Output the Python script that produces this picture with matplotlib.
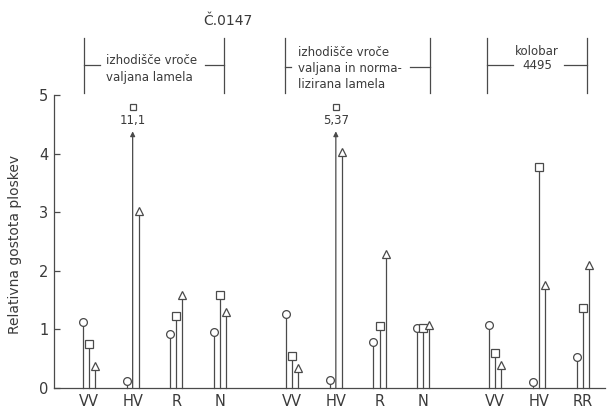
import matplotlib
matplotlib.use('Agg')
import matplotlib.pyplot as plt

# ---- data ----
group_labels = ['izhodišče vroče\nvaljana lamela',
                'izhodišče vroče\nvaljana in norma-\nlizirana lamela',
                'kolobar\n4495']
categories = [['VV', 'HV', 'R', 'N'], ['VV', 'HV', 'R', 'N'], ['VV', 'HV', 'RR']]
circle_vals = [[1.13, 0.12, 0.93, 0.95], [1.27, 0.14, 0.78, 1.02], [1.07, 0.11, 0.53]]
square_vals = [[0.75, 11.1, 1.23, 1.59], [0.55, 5.37, 1.06, 1.03], [0.60, 3.77, 1.36]]
triangle_vals = [[0.38, 3.02, 1.59, 1.30], [0.34, 4.03, 2.28, 1.07], [0.40, 1.76, 2.10]]
title = 'Č.0147'
ylabel = 'Relativna gostota ploskev'
yticks = [0, 1, 2, 3, 4, 5]

# ---- style / layout ----
W, H = 608, 409
LC = '#4a4a4a'
TC = '#3a3a3a'
GAP = 1.65
OFF = 0.14
YMAX = 5
CAP_MARK, CAP_ARROW, CAP_TEXT = 4.8, 4.38, 4.57

fig = plt.figure(figsize=(W / 100, H / 100), dpi=100)
ax = fig.add_axes([54 / W, 1 - 388 / H, 551 / W, 293 / H])

def fx(px):
    return px / W

def fy(py):
    return 1 - py / H

tick_pos, tick_lab = [], []
start = 0.0
series = [(circle_vals, 'o', -OFF), (square_vals, 's', 0.0), (triangle_vals, '^', OFF)]
for g, cats in enumerate(categories):
    for i, c in enumerate(cats):
        x0 = start + i
        tick_pos.append(x0)
        tick_lab.append(c)
        for vals, mk, off in series:
            v = vals[g][i]
            x = x0 + off
            if v > YMAX:
                ax.annotate('', xy=(x, CAP_ARROW), xytext=(x, 0),
                            arrowprops=dict(arrowstyle='-|>', lw=0.9, color=LC,
                                            mutation_scale=7, shrinkA=0, shrinkB=0),
                            annotation_clip=False)
                ax.plot([x], [CAP_MARK], marker=mk, ms=4.5, mfc='white', mec=LC,
                        mew=0.9, clip_on=False, zorder=3)
                ax.text(x, CAP_TEXT, f'{v:g}'.replace('.', ','), ha='center', va='center',
                        fontsize=8.5, color=TC)
            else:
                ax.plot([x, x], [0, v], color=LC, lw=0.9, clip_on=False)
                ax.plot([x], [v], marker=mk, ms=5.6, mfc='white', mec=LC, mew=0.9,
                        clip_on=False, zorder=3)
    start += len(cats) - 1 + GAP

ax.set_xlim(-0.80, 11.81)
ax.set_ylim(0, YMAX)
ax.set_yticks(yticks)
ax.set_yticklabels([str(t) for t in yticks], fontsize=10.5, color=TC)
ax.set_xticks(tick_pos)
ax.set_xticklabels(tick_lab, fontsize=10.5, color=TC)
ax.tick_params(axis='x', length=0, pad=4)
ax.tick_params(axis='y', direction='in', length=4, width=0.9, color=LC, pad=4)
for s in ['top', 'right']:
    ax.spines[s].set_visible(False)
for s in ['left', 'bottom']:
    ax.spines[s].set_color(LC)
    ax.spines[s].set_linewidth(0.9)
ax.set_ylabel(ylabel, fontsize=10, color=TC)
ax.yaxis.set_label_coords(-0.058, 0.49)

# ---- header ----
fig.text(fx(228), fy(21), title, ha='center', va='center', fontsize=10, color=TC)

def bracket(x1, x2, yl, segs):
    fig.add_artist(plt.Line2D([fx(x1), fx(x1)], [fy(38), fy(93)], color=LC, lw=0.9))
    fig.add_artist(plt.Line2D([fx(x2), fx(x2)], [fy(38), fy(93)], color=LC, lw=0.9))
    for a, b in segs:
        fig.add_artist(plt.Line2D([fx(a), fx(b)], [fy(yl), fy(yl)], color=LC, lw=0.9))

bracket(84, 224, 65, [(84, 100), (205, 224)])
fig.text(fx(152), fy(68.5), group_labels[0], ha='center', va='center',
         multialignment='left', fontsize=8.5, color=TC, linespacing=1.4)
bracket(285, 430, 67, [(285, 291), (410, 430)])
fig.text(fx(350), fy(68.5), group_labels[1], ha='center', va='center',
         multialignment='left', fontsize=8.5, color=TC, linespacing=1.35)
bracket(487, 587, 65, [(487, 513), (564, 587)])
fig.text(fx(537), fy(58.5), group_labels[2], ha='center', va='center',
         multialignment='center', fontsize=8.5, color=TC, linespacing=1.1)

fig.savefig('out.png', dpi=100)
